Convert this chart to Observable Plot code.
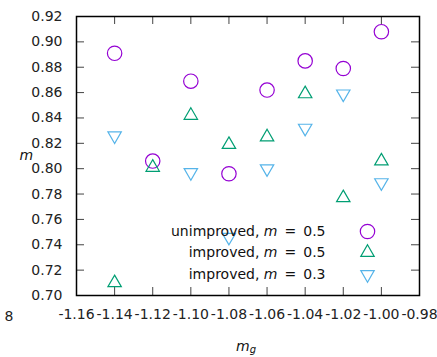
<!DOCTYPE html>
<html><head><meta charset="utf-8">
<script src="https://cdn.jsdelivr.net/npm/d3@7"></script>
<script src="https://cdn.jsdelivr.net/npm/@observablehq/plot@0.6"></script>
<style>
body{margin:0;background:#fff;}
#chart{position:relative;width:437px;height:357px;}
svg{overflow:visible;}
</style>
</head><body><div id="chart"></div>
<script>
const mg = [-1.14, -1.12, -1.10, -1.08, -1.06, -1.04, -1.02, -1.00];
const unimproved05 = [0.891, 0.806, 0.869, 0.796, 0.862, 0.885, 0.879, 0.908];
const improved05 = [0.710, 0.801, 0.842, 0.819, 0.825, 0.859, 0.777, 0.806];
const improved03 = [0.826, null, 0.797, 0.746, 0.800, 0.832, 0.859, 0.789];
const xTicks = [-1.16, -1.14, -1.12, -1.10, -1.08, -1.06, -1.04, -1.02, -1.00, -0.98];
const yTicks = [0.70, 0.72, 0.74, 0.76, 0.78, 0.80, 0.82, 0.84, 0.86, 0.88, 0.90, 0.92];
const seriesLabels = ["unimproved, m = 0.5", "improved, m = 0.5", "improved, m = 0.3"];
const seriesColors = ["#9400d3", "#009e73", "#56b4e9"];

const series = [unimproved05, improved05, improved03];
const FONT = "DejaVu Sans, sans-serif";
const symbols = ["circle", "triangle2", "triangle2"];
const rotations = [0, 0, 180];
const radii = [7.2, 6.4, 6.4];

const dataMarks = series.map((vals, s) => {
  const rows = mg.map((x, i) => ({x, y: vals[i]})).filter(d => d.y != null);
  return Plot.dot(rows, {x: "x", y: "y", symbol: symbols[s], rotate: rotations[s], r: radii[s], stroke: seriesColors[s], strokeWidth: 1.2, fill: "none"});
});

const legendMarks = [];
const legendDy = [-64, -43, -21];
seriesLabels.forEach((lab, s) => {
  legendMarks.push(Plot.text([lab], {frameAnchor: "bottom-right", text: d => d, dx: -94, dy: legendDy[s], textAnchor: "end", lineAnchor: "middle", fontSize: 14, fill: "#111", className: "legtext"}));
  legendMarks.push(Plot.dot([0], {frameAnchor: "bottom-right", dx: -52, dy: legendDy[s], symbol: symbols[s], rotate: rotations[s], r: radii[s], stroke: seriesColors[s], strokeWidth: 1.2, fill: "none"}));
});

const plot = Plot.plot({
  width: 437, height: 357,
  marginLeft: 76, marginRight: 18, marginTop: 16, marginBottom: 62,
  style: {fontFamily: FONT, fontSize: "14px", background: "#fff", color: "#222"},
  x: {domain: [-1.16, -0.98]},
  y: {domain: [0.70, 0.92]},
  marks: [
    Plot.tickX(xTicks, {x: d => d, insetTop: 271, stroke: "#444", strokeWidth: 1}),
    Plot.tickX(xTicks, {x: d => d, insetBottom: 271, stroke: "#444", strokeWidth: 1}),
    Plot.tickY(yTicks, {y: d => d, insetRight: 335, stroke: "#444", strokeWidth: 1}),
    Plot.tickY(yTicks, {y: d => d, insetLeft: 335, stroke: "#444", strokeWidth: 1}),
    Plot.axisX(xTicks, {anchor: "bottom", tickSize: 0, tickPadding: 14, tickFormat: d => d.toFixed(2), label: null, fontSize: 14}),
    Plot.axisY(yTicks, {anchor: "left", tickSize: 0, tickPadding: 14, tickFormat: d => d.toFixed(2), label: null, fontSize: 14}),
    Plot.frame({stroke: "#000", strokeWidth: 1.5}),
    ...dataMarks,
    ...legendMarks,
    Plot.text(["m"], {frameAnchor: "left", text: d => d, dx: -57, lineAnchor: "middle", fontStyle: "italic", fontSize: 14, fill: "#111"}),
    Plot.text(["mg"], {frameAnchor: "bottom", text: d => d, dx: -2, dy: 51, lineAnchor: "middle", fontSize: 14, fill: "#111", className: "xlab"}),
    Plot.text(["8"], {frameAnchor: "bottom-left", text: d => d, dx: -72, dy: 21, lineAnchor: "middle", fontSize: 14, fill: "#222"})
  ]
});
document.getElementById("chart").appendChild(plot);

d3.select(plot).selectAll(".legtext text").each(function() {
  const t = this.textContent;
  const parts = t.split(" m = ");
  this.innerHTML = parts[0] + ' <tspan font-style="italic">m</tspan>\u2002=\u2002' + parts[1];
});
d3.select(plot).selectAll(".xlab text").each(function() {
  this.innerHTML = '<tspan font-style="italic">m</tspan><tspan font-style="italic" font-size="10" dy="2">g</tspan>';
});
</script>
</body></html>
